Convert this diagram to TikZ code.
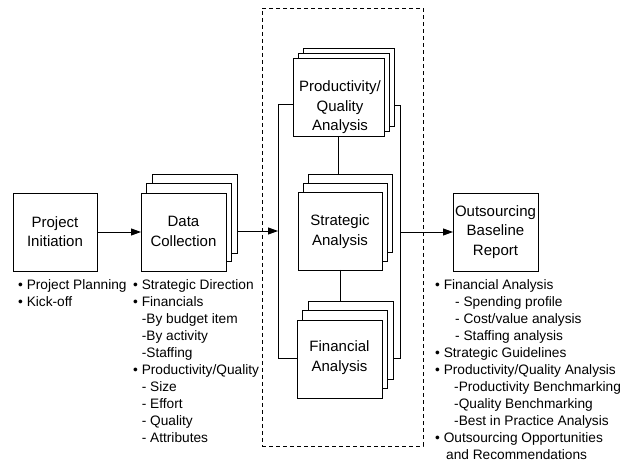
\documentclass[tikz,border=0pt]{standalone}
\usepackage{fontspec}
\setmainfont{Liberation Sans}
\usetikzlibrary{arrows.meta}
\newcommand\bul{\makebox[8.6pt][l]{•}}
\begin{document}
\begin{tikzpicture}[x=1pt,y=-1pt,
  box/.style={draw, line width=0.9pt, fill=white, inner sep=0pt, outer sep=0pt, anchor=north west},
  lbl/.style={align=center, font=\fontsize{15}{19.5}\selectfont, inner sep=0pt},
  lst/.style={align=left, anchor=north west, inner sep=0pt, font=\fontsize{13.7}{17}\selectfont},
  ln/.style={line width=0.9pt},
  arr/.style={ln, -{Triangle[length=10pt,width=7pt]}},
  grpbox/.style={draw, line width=0.7pt, dash pattern=on 4pt off 3pt, inner sep=0pt, outer sep=0pt, anchor=north west}
]
\useasboundingbox (0,0) rectangle (625,462);
% dashed group
\node[grpbox, minimum width=161pt, minimum height=438pt] (grp) at (262,8) {};
% boxes
\node[box, minimum width=84pt, minimum height=78pt] (pi) at (13,193) {};
\node[box, minimum width=85pt, minimum height=79pt] (dc3) at (152,174) {};
\node[box, minimum width=85pt, minimum height=78pt] (dc2) at (146.5,183.5) {};
\node[box, minimum width=85pt, minimum height=78pt] (dc) at (141,193) {};
\node[box, minimum width=91pt, minimum height=78pt] (pq3) at (303,48) {};
\node[box, minimum width=91pt, minimum height=78pt] (pq2) at (298,53) {};
\node[box, minimum width=91pt, minimum height=78pt] (pq) at (293,58) {};
\node[box, minimum width=84pt, minimum height=78pt] (sa3) at (308,174) {};
\node[box, minimum width=84pt, minimum height=78pt] (sa2) at (303,183) {};
\node[box, minimum width=84pt, minimum height=78pt] (sa) at (298,192) {};
\node[box, minimum width=85pt, minimum height=78pt] (fa3) at (308,301) {};
\node[box, minimum width=85pt, minimum height=78pt] (fa2) at (302.5,310.5) {};
\node[box, minimum width=85pt, minimum height=78pt] (fa) at (297,320) {};
\node[box, minimum width=85pt, minimum height=78pt] (ob) at (453,193) {};
% labels
\node[lbl] (pit) at (55,231.5) {Project\\Initiation};
\node[lbl] (dct) at (183.5,231.5) {Data\\Collection};
\node[lbl] (pqt) at (340,107.5) {Productivity/\\Quality\\Analysis};
\node[lbl] (sat) at (340,231.5) {Strategic\\Analysis};
\node[lbl] (fat) at (339.5,357.5) {Financial\\Analysis};
\node[lbl] (obt) at (495.5,232) {Outsourcing\\Baseline\\Report};
% connectors
\coordinate (lt) at (278,104);
\coordinate (lb) at (278,358);
\coordinate (lm) at (278,231);
\coordinate (rt) at (400,105);
\coordinate (rb) at (400,358);
\coordinate (rm) at (400,232);
\draw[ln] (pq.west |- lt) -- (lt) -- (lb) -- (fa.west |- lb);
\draw[ln] (pq3.east |- rt) -- (rt) -- (rb) -- (fa3.east |- rb);
\draw[ln] (pq.south) -- (pq.south |- sa3.north);
\draw[ln] (sa.south) -- (sa.south |- fa3.north);
\draw[arr] (pi.east) -- (dc.west);
\draw[arr] (dc3.east |- lm) -- (lm);
\draw[arr] (rm) -- (ob.west |- rm);
% lists
\node[lst] (pil) at (18,279) {\bul Project Planning\\ \bul Kick-off};
\node[lst] (dcl) at (133,279) {\bul Strategic Direction\\
\bul Financials\\
\hspace*{8.6pt}-By budget item\\
\hspace*{8.6pt}-By activity\\
\hspace*{8.6pt}-Staffing\\
\bul Productivity/Quality\\
\hspace*{8.6pt}- Size\\
\hspace*{8.6pt}- Effort\\
\hspace*{8.6pt}- Quality\\
\hspace*{8.6pt}- Attributes};
\node[lst] (obl) at (435,279) {\bul Financial Analysis\\
\hspace*{20pt}- Spending profile\\
\hspace*{20pt}- Cost/value analysis\\
\hspace*{20pt}- Staffing analysis\\
\bul Strategic Guidelines\\
\bul Productivity/Quality Analysis\\
\hspace*{19pt}-Productivity Benchmarking\\
\hspace*{19pt}-Quality Benchmarking\\
\hspace*{19pt}-Best in Practice Analysis\\
\bul Outsourcing Opportunities\\
\hspace*{11pt}and Recommendations};
\end{tikzpicture}
\end{document}
